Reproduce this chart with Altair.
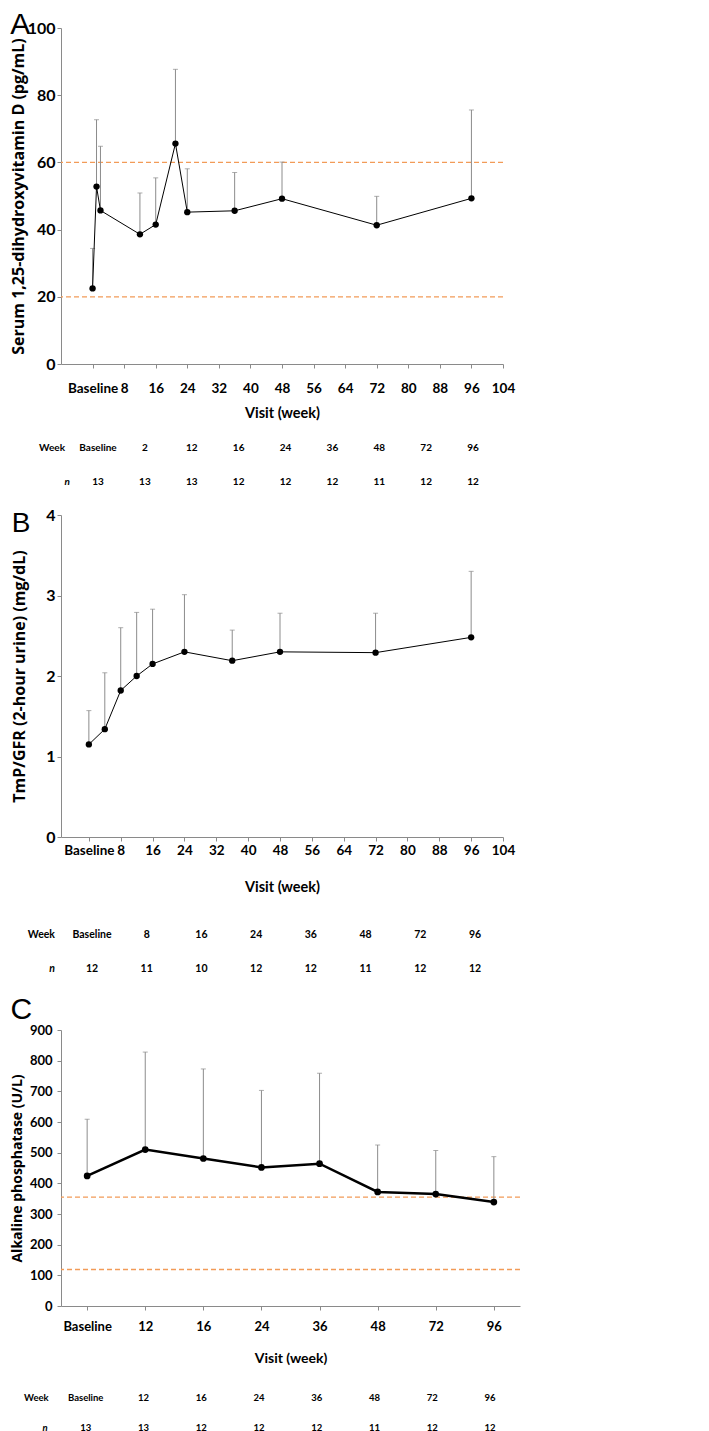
import altair as alt
import pandas as pd

# ---------------- data ----------------
# Panel A: serum 1,25-dihydroxyvitamin D
A_weeks = [0, 1, 2, 12, 16, 21, 24, 36, 48, 72, 96]
A_mean = [22.5, 52.8, 45.7, 38.6, 41.5, 65.6, 45.2, 45.6, 49.2, 41.3, 49.3]
A_upper = [34.4, 72.7, 64.8, 50.9, 55.4, 87.7, 58.1, 57.0, 60.1, 49.9, 75.6]
A_ref = [20, 60]
A_yticks = [0, 20, 40, 60, 80, 100]
A_tab_weeks = ["Baseline", "2", "12", "16", "24", "36", "48", "72", "96"]
A_tab_n = [13, 13, 13, 12, 12, 12, 11, 12, 12]

# Panel B: TmP/GFR
B_weeks = [0, 4, 8, 12, 16, 24, 36, 48, 72, 96]
B_mean = [1.15, 1.34, 1.82, 2.00, 2.15, 2.30, 2.19, 2.30, 2.29, 2.48]
B_upper = [1.57, 2.04, 2.60, 2.79, 2.83, 3.01, 2.57, 2.78, 2.78, 3.30]
B_yticks = [0, 1, 2, 3, 4]
B_tab_weeks = ["Baseline", "8", "16", "24", "36", "48", "72", "96"]
B_tab_n = [12, 11, 10, 12, 12, 11, 12, 12]

# Panel C: alkaline phosphatase
C_visits = ["Baseline", "12", "16", "24", "36", "48", "72", "96"]
C_mean = [424, 510, 481, 452, 464, 372, 365, 339]
C_upper = [609, 828, 773, 703, 759, 525, 507, 487]
C_ref = [355, 119]
C_yticks = [0, 100, 200, 300, 400, 500, 600, 700, 800, 900]
C_tab_weeks = ["Baseline", "12", "16", "24", "36", "48", "72", "96"]
C_tab_n = [13, 13, 12, 12, 12, 11, 12, 12]

week_ticks = [0, 8, 16, 24, 32, 40, 48, 56, 64, 72, 80, 88, 96, 104]
BASELINE = "Baseline"
ROWS = ["Week", "n"]
X_TITLE = "Visit (week)"

# ---------------- styles ----------------
LATO = "Lato, Liberation Sans, sans-serif"
TITLEF = "Open Sans, DejaVu Sans, sans-serif"
LETTERF = "Liberation Sans, Arial, sans-serif"
ORANGE = "#F29B58"
EBAR = "#8C8C8C"
AXC = "#8A8A8A"


def y_axis(values, fs, pad, tfs, tpad):
    return alt.Axis(values=values, grid=False, domainColor=AXC, tickColor=AXC, tickSize=4,
                    labelFont=LATO, labelFontSize=fs, labelFontWeight="bold", labelColor="black",
                    labelPadding=pad, titleFont=TITLEF, titleFontSize=tfs, titleFontWeight="bold",
                    titleColor="black", titlePadding=tpad)


def make_panel(df, xe, ydomain, yvals, ylab_fs, ylab_pad, ytitle, ytfs, ytpad, ref, lw, ps,
               tab_cols, tab_n, tab_xrange, tab_yrange, tab_fs, dx_week, dx_n,
               width, height, letter, letter_fs, letter_dy):
    ysc = alt.Scale(domain=ydomain, nice=False, zero=True)
    yax = y_axis(yvals, ylab_fs, ylab_pad, ytfs, ytpad)

    def ye(field):
        return alt.Y(f"{field}:Q", scale=ysc, axis=yax, title=ytitle)

    base = alt.Chart(df)
    ref_layer = alt.Chart(pd.DataFrame({"ref": ref})).mark_rule(
        color=ORANGE, strokeDash=[5, 3], strokeWidth=1.3).encode(y=ye("ref"))
    err = base.mark_rule(color=EBAR, strokeWidth=1).encode(x=xe, y=ye("mean"), y2="upper:Q")
    cap = base.mark_tick(color=EBAR, orient="horizontal", size=5, thickness=1).encode(
        x=xe, y=ye("upper"))
    line = base.mark_line(color="black", strokeWidth=lw).encode(x=xe, y=ye("mean"))
    pts = base.mark_circle(color="black", size=ps, opacity=1).encode(x=xe, y=ye("mean"))
    plot = alt.layer(ref_layer, err, cap, line, pts)

    k = len(tab_cols)
    tdf = pd.DataFrame({"col": tab_cols + tab_cols,
                        "row": [ROWS[0]] * k + [ROWS[1]] * k,
                        "txt": tab_cols + [str(v) for v in tab_n]})
    tx = alt.X("col:N", scale=alt.Scale(type="point", domain=tab_cols, range=tab_xrange, padding=0),
               axis=None)
    ty = alt.Y("row:N", scale=alt.Scale(type="point", domain=ROWS, range=tab_yrange, padding=0),
               axis=None)
    vals = alt.Chart(tdf).mark_text(font=LATO, fontSize=tab_fs, fontWeight="bold",
                                    color="black", baseline="middle").encode(x=tx, y=ty, text="txt:N")
    wk = alt.Chart(pd.DataFrame({"col": [tab_cols[0]], "row": [ROWS[0]], "txt": [ROWS[0]]})).mark_text(
        font=LATO, fontSize=tab_fs, fontWeight="bold", color="black", align="right",
        baseline="middle", dx=dx_week).encode(x=tx, y=ty, text="txt:N")
    nn = alt.Chart(pd.DataFrame({"col": [tab_cols[0]], "row": [ROWS[1]], "txt": [ROWS[1]]})).mark_text(
        font=LATO, fontSize=tab_fs, fontWeight="bold", fontStyle="italic", color="black",
        align="right", baseline="middle", dx=dx_n).encode(x=tx, y=ty, text="txt:N")
    table = alt.layer(vals, wk, nn)

    return alt.layer(plot, table).resolve_scale(x="independent", y="independent").properties(
        width=width, height=height,
        title=alt.TitleParams(text=letter, anchor="start", frame="bounds", orient="top",
                              font=LETTERF, fontSize=letter_fs, fontWeight="normal",
                              color="black", baseline="alphabetic", offset=0, dy=letter_dy))


def week_x(domain, lab_pad, title_pad):
    return alt.X("week:Q", scale=alt.Scale(domain=domain, nice=False, zero=False),
                 title=X_TITLE,
                 axis=alt.Axis(values=week_ticks, grid=False, domainColor=AXC, tickColor=AXC,
                               tickSize=4, labelFont=LATO, labelFontSize=13.5,
                               labelFontWeight="bold", labelColor="black", labelPadding=lab_pad,
                               labelOverlap=False, labelFlush=False,
                               labelExpr=f"datum.value == 0 ? '{BASELINE}' : datum.label",
                               titleFont=LATO, titleFontSize=14.5, titleFontWeight="bold",
                               titleColor="black", titlePadding=title_pad))


dfA = pd.DataFrame({"week": A_weeks, "mean": A_mean, "upper": A_upper})
dfB = pd.DataFrame({"week": B_weeks, "mean": B_mean, "upper": B_upper})
dfC = pd.DataFrame({"visit": C_visits, "mean": C_mean, "upper": C_upper})

hA, hB, hC = 336, 322, 276

pA = make_panel(dfA, week_x([-8, 104], 13, 12), [0, 100], A_yticks, 16, 2,
                "Serum 1,25-dihydroxyvitamin D (pg/mL)", 16, 1, A_ref, 1, 40,
                A_tab_weeks, A_tab_n, [37, 412], [hA + 84, hA + 118], 10, -33, -28,
                442, hA, "A", 30, 44)

pB = make_panel(dfB, week_x([-7, 104], 2, 24), [0, 4], B_yticks, 16, 2,
                "TmP/GFR (2-hour urine) (mg/dL)", 16, 18, [], 1, 40,
                B_tab_weeks, B_tab_n, [31, 414], [hB + 98, hB + 132], 10.5, -37, -37,
                442, hB, "B", 28, 53)

xC = alt.X("visit:N", sort=C_visits, title=X_TITLE,
           scale=alt.Scale(type="point", domain=C_visits, padding=0.45),
           axis=alt.Axis(labelAngle=0, grid=False, domainColor=AXC, tickColor=AXC, tickSize=4,
                         labelFont=LATO, labelFontSize=13, labelFontWeight="bold",
                         labelColor="black", labelPadding=10, titleFont=LATO, titleFontSize=14,
                         titleFontWeight="bold", titleColor="black", titlePadding=18))

pC = make_panel(dfC, xC, [0, 900], C_yticks, 13, 5,
                "Alkaline phosphatase (U/L)", 14, 5, C_ref, 2.5, 45,
                C_tab_weeks, C_tab_n, [24.7, 429], [hC + 91.5, hC + 121.5], 9.5, -37, -38,
                459, hC, "C", 30, 25.4)

chart = alt.vconcat(pA, pB, pC, spacing=20).properties(
    padding={"left": 2, "right": 0, "top": 2, "bottom": 0}
).configure_view(stroke=None)

chart.save("out.html", embed_options={"renderer": "svg", "actions": False})
